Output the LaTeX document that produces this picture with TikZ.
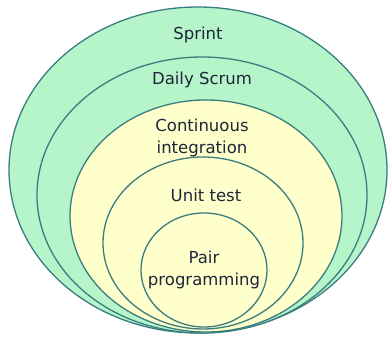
\documentclass[tikz,border=0pt]{standalone}
\usepackage{fontspec}
\setmainfont{DejaVu Sans}
\usetikzlibrary{shapes.geometric}
\definecolor{ringgreen}{RGB}{182,244,202}
\definecolor{ringyellow}{RGB}{255,255,204}
\definecolor{ringline}{RGB}{58,125,128}
\definecolor{txt}{RGB}{30,38,58}
\tikzset{
  ring/.style={ellipse, draw=ringline, line width=1.3pt, inner sep=0pt},
  lbl/.style={text=txt, font=\fontsize{16.5}{22.5}\selectfont, align=center, inner sep=0pt}
}
\begin{document}
\begin{tikzpicture}[x=1pt,y=1pt]
\useasboundingbox (0,0) rectangle (389,337);
\fill[white] (0,0) rectangle (389,337);
% y_tikz = 337 - y_img
\node[ring, fill=ringgreen, minimum width=378pt, minimum height=326pt] (sprint) at (198,167) {};
\node[ring, fill=ringgreen, minimum width=330pt, minimum height=276pt] (daily) at (202,142) {};
\node[ring, fill=ringyellow, minimum width=272pt, minimum height=232pt] (ci) at (206,121) {};
\node[ring, fill=ringyellow, minimum width=200pt, minimum height=172pt] (unit) at (203,94) {};
\node[ring, fill=ringyellow, minimum width=126pt, minimum height=114pt] (pair) at (204,67) {};
\node[lbl] (tsprint) at (198,302) {Sprint};
\node[lbl] (tdaily) at (202,257) {Daily Scrum};
\node[lbl] (tci) at (202,199) {Continuous\\integration};
\node[lbl] (tunit) at (206,142) {Unit test};
\node[lbl] (tpair) at (204,67) {Pair\\programming};
\end{tikzpicture}
\end{document}
